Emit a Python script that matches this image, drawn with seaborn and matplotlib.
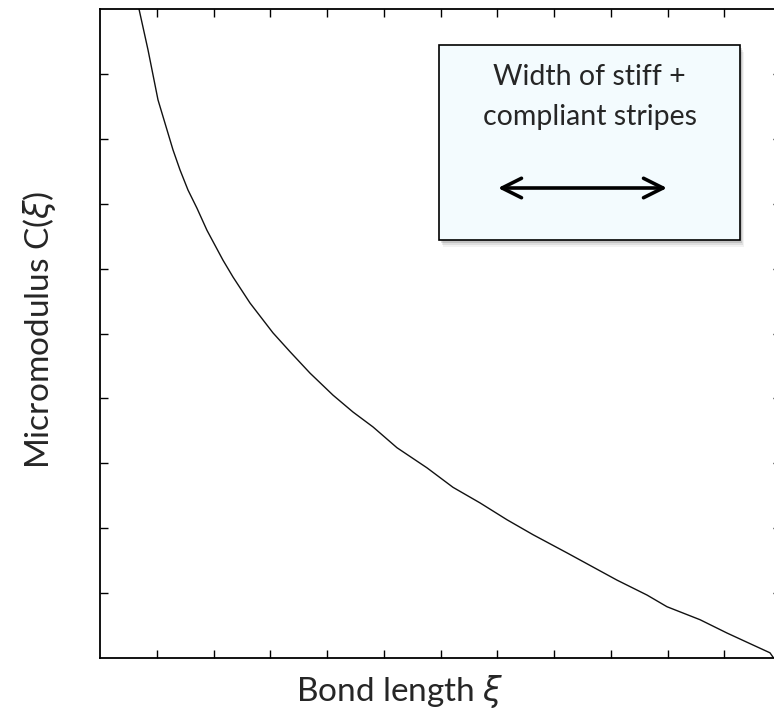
import matplotlib
matplotlib.use("Agg")
import matplotlib.pyplot as plt
import matplotlib.patches as mpatches
import seaborn as sns
import pandas as pd

# Micromodulus profile sampled along the bond length
bond_length = [0.687, 0.846, 1.022, 1.286, 1.410, 1.551, 1.709, 1.885, 2.167,
               2.344, 2.643, 3.048, 3.348, 3.700, 4.106, 4.458, 4.811,
               5.233, 5.762, 6.220, 6.696, 7.172, 7.630, 8.229, 9.110, 9.639,
               9.991, 10.573, 11.048, 11.507, 11.806, 11.87]
micromodulus = [10.0, 9.37, 8.60, 7.83, 7.52, 7.21, 6.93, 6.59, 6.13,
                5.87, 5.47, 5.01, 4.72, 4.39, 4.05, 3.79, 3.56,
                3.24, 2.93, 2.63, 2.39, 2.13, 1.90, 1.62, 1.20, 0.97,
                0.79, 0.59, 0.385, 0.20, 0.08, 0.0]

x_ticks = list(range(1, 12))
y_ticks = list(range(1, 10))

box_lines = ["Width of stiff +", "compliant stripes"]
x_label = r"Bond length $\xi$"
y_label = r"Micromodulus C($\xi$)"

sns.set_style("white")
plt.rcParams["font.family"] = ["Lato", "DejaVu Sans"]
plt.rcParams["mathtext.fontset"] = "dejavusans"

df = pd.DataFrame({"xi": bond_length, "C": micromodulus})

fig = plt.figure(figsize=(7.74, 7.17), dpi=100)
ax = fig.add_axes([100 / 774, 59 / 717, 681 / 774, 649 / 717])

sns.lineplot(data=df, x="xi", y="C", ax=ax, color="#111111", linewidth=1.0,
             sort=False)

ax.set_xlim(0, 12)
ax.set_ylim(0, 10)
ax.set_xticks(x_ticks)
ax.set_yticks(y_ticks)
ax.set_xticklabels([])
ax.set_yticklabels([])
ax.tick_params(direction="in", length=6, width=1.0, color="black",
               top=True, right=True, bottom=True, left=True)
for sp in ax.spines.values():
    sp.set_visible(True)
    sp.set_color("black")
    sp.set_linewidth(1.3)

ax.set_xlabel("")
ax.set_ylabel("")
fig.text(400 / 774, 1 - 692 / 717, x_label, ha="center", va="center",
         fontsize=24)
fig.text(40 / 774, 1 - 330 / 717, y_label, ha="center", va="center",
         fontsize=24, rotation=90)

# Annotation box with drop shadow
bx0, bx1 = 0.498, 0.940
by0, by1 = 0.644, 0.9445
for off, a in [(0.010, 0.05), (0.007, 0.08), (0.004, 0.12)]:
    ax.add_patch(mpatches.Rectangle((bx0 + off * 0.6, by0 - off), bx1 - bx0,
                                    by1 - by0, transform=ax.transAxes,
                                    facecolor="black", edgecolor="none",
                                    alpha=a, zorder=4))
ax.add_patch(mpatches.Rectangle((bx0, by0), bx1 - bx0, by1 - by0,
                                transform=ax.transAxes, facecolor="#F3FBFE",
                                edgecolor="black", linewidth=1.2, zorder=5))
cx = (bx0 + bx1) / 2
ax.text(cx, (658 - 77) / 649, box_lines[0], transform=ax.transAxes,
        ha="center", va="center", fontsize=20.5, zorder=6)
ax.text(cx, (658 - 117) / 649, box_lines[1], transform=ax.transAxes,
        ha="center", va="center", fontsize=20.5, zorder=6)
ay = (658 - 188) / 649
ax.annotate("", xy=((667 - 100) / 681, ay), xytext=((498 - 100) / 681, ay),
            xycoords="axes fraction", textcoords="axes fraction",
            arrowprops=dict(arrowstyle="<->,head_length=1.4,head_width=0.7",
                            color="black", lw=2.6, shrinkA=0, shrinkB=0),
            zorder=6)

fig.savefig("out.png", dpi=100)
